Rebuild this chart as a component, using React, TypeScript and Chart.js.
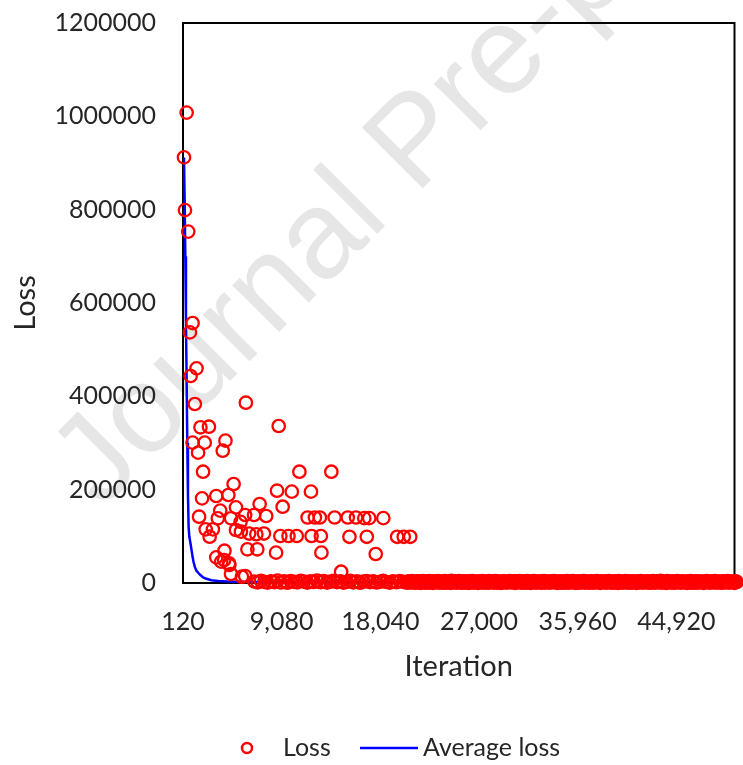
import React, { useEffect, useRef } from "react";
import { Chart, registerables } from "chart.js";

Chart.register(...registerables);

// ---- axis definitions ----
const xTickValues = [120, 9080, 18040, 27000, 35960, 44920];
const xMin = 120;
const xMax = 50200;
const yMin = 0;
const yMax = 1200000;
const yStep = 200000;

// ---- Loss: scattered points (iteration, loss) ----
const lossIter = [
  450, 210, 300, 595, 990, 750, 1350, 810, 1195, 5830,
  1705, 2475, 8810, 990, 2090, 3975, 1490, 3730, 1940, 10690,
  13590, 4715, 1850, 3140, 4240, 8660, 10000, 11740, 4930, 7080,
  9170, 3500, 1580, 3280, 4480, 5765, 6570, 7675, 11435, 12100,
  12550, 13890, 15080, 15830, 16580, 17030, 18310, 2180, 2835, 2540,
  4930, 5380, 6125, 6780, 7470, 8960, 9700, 10450, 11795, 12640,
  15235, 16810, 19565, 20165, 20755, 5970, 6865, 8570, 12690, 17620,
  3885, 3140, 3590, 4330, 4480, 5470, 5765, 14480, 5345, 3860,
  4300,
];
const lossValue = [
  1008000, 912000, 799000, 753000, 557000, 537000, 460000, 443600, 383600, 386400,
  333600, 334900, 336400, 300700, 300700, 305000, 279300, 283500, 238500, 238500,
  238500, 212100, 181400, 186400, 188600, 197800, 195700, 195700, 162100, 169300,
  163500, 155000, 142100, 138600, 138600, 145700, 145700, 143600, 140400, 140400,
  140400, 140400, 140400, 140400, 139000, 139000, 139000, 115000, 115000, 99200,
  113600, 110000, 106000, 104500, 106000, 100700, 100700, 100700, 100700, 100700,
  99000, 99000, 99000, 99000, 99000, 72200, 72200, 65000, 65000, 62100,
  69200, 55000, 45700, 38600, 19300, 13500, 15000, 24200, 131000, 49300,
  42200,
];

// ---- Loss: near-zero band, logged at a regular iteration interval ----
const bandAStart = 6600;
const bandAStep = 300;
const bandALoss = [
  3200, 1500, 4600, 2400, 900, 3800, 2000, 5200, 1200, 3400,
  600, 4200, 2600, 1400, 4800, 3000, 800, 3600, 2200, 5000,
  1600, 3900, 1000, 2800, 4400, 1800, 3300, 700, 2500, 4700,
  1300, 3500, 500, 2900, 4100, 1900, 3700, 1100, 2700, 4500,
  2100, 800, 3400, 1600, 4300, 2300, 1000,
];
const bandBStart = 20500;
const bandBStep = 100;
const bandBLoss = [
  2100, 3400, 900, 2700, 4100, 1500, 3000, 600, 2400, 3800, 1200, 3300, 200, 2900, 4300, 1800, 700, 3500, 2500, 1000,
  4000, 1900, 3100, 400, 2800, 3700, 1400, 2200, 4200, 800, 3200, 1700, 2600, 500, 3900, 2000, 1100, 3600, 2300, 300,
  4400, 1600, 2900, 1300, 3400, 700, 2700, 4000, 1900, 600, 3300, 2400, 1000, 3800, 1500, 2800, 400, 3500, 2100, 4100,
  900, 3000, 1700, 2500, 300, 3700, 1200, 2200, 4300, 800, 3100, 1800, 2600, 500, 3900, 1400, 2900, 3600, 1000, 2300,
  4200, 600, 3200, 1900, 2700, 200, 3800, 1300, 2400, 3400, 700, 3000, 1600, 4000, 2100, 1100, 3500, 2800, 400, 3300,
  1800, 2500, 4100, 900, 2900, 1500, 3700, 600, 2200, 3900, 1200, 2600, 300, 3400, 1700, 4200, 2000, 800, 3100, 2400,
  1400, 3600, 500, 2800, 4000, 1000, 3200, 1900, 2500, 700, 3800, 1300, 2700, 4300, 1600, 3000, 400, 2300, 3500, 1100,
  2900, 600, 3700, 2000, 1500, 4100, 900, 3300, 2400, 1200, 3900, 1800, 2600, 300, 3400, 2100, 800, 3600, 1400, 2800,
  4200, 1000, 3100, 1700, 2500, 500, 3800, 2200, 1300, 3500, 700, 2900, 4000, 1600, 2400, 200, 3300, 1900, 2700, 1100,
  3700, 800, 2600, 4300, 1400, 3000, 600, 2300, 3600, 1200, 2800, 400, 3900, 2000, 1500, 3200, 900, 2500, 4100, 1700,
  2900, 500, 3400, 2100, 1000, 3800, 1800, 2700, 300, 3500, 1300, 2400, 4200, 700, 3100, 1900, 2600, 1100, 3700, 2200,
  600, 3300, 1500, 4000, 2000, 900, 3600, 2800, 1200, 2300, 4400, 800, 3000, 1700, 2500, 400, 3900, 1400, 2700, 3200,
  1000, 3500, 2100, 500, 2900, 4100, 1600, 2400, 700, 3700, 1900, 3100, 1200, 2600, 200, 3400, 2000, 4300, 900, 2800,
  1500, 3800, 600, 2200, 3600, 1100, 3000, 1800, 2500, 400, 3300, 2100, 4000, 1300, 2700, 800, 3500, 1700, 2400, 3900,
  700, 2900, 1400, 3200, 2000, 500, 3700, 2600, 1200, 3400, 1900, 4200, 900, 2300, 3100, 1600, 2800, 300, 3600, 2200,
];

// ---- Average loss ----
const avgIter = [
  210, 270, 330, 390, 450, 510, 570, 630, 690, 780,
  900, 1000, 1080, 1200, 1350, 1500, 1700, 1950, 2250, 2700,
  3300, 4200, 5200, 6500, 8000, 10000, 14000, 20000, 30000, 40000,
  50200,
];
const avgLoss = [
  912000, 820000, 700000, 560000, 430000, 300000, 190000, 120000, 100000, 88000,
  70000, 55000, 45000, 34000, 26000, 22000, 17000, 12000, 9000, 6000,
  4500, 3200, 2600, 2300, 2100, 2000, 1900, 1800, 1700, 1600,
  1500,
];

const seriesNames = ["Loss", "Average loss"];
const xTitle = "Iteration";
const yTitle = "Loss";
const watermarkText = "Journal Pre-proof";

const FONT = "Lato, 'Open Sans', sans-serif";
const TEXT = "#262626";

function buildLossPoints() {
  const pts: { x: number; y: number }[] = [];
  lossIter.forEach((it, i) => pts.push({ x: it, y: lossValue[i] }));
  bandALoss.forEach((v, i) => pts.push({ x: bandAStart + i * bandAStep, y: v }));
  bandBLoss.forEach((v, i) => pts.push({ x: bandBStart + i * bandBStep, y: v }));
  return pts;
}

const framePlugin = {
  id: "frame",
  beforeDatasetsDraw(chart: any) {
    const { ctx, chartArea } = chart;
    ctx.save();
    ctx.strokeStyle = "#000";
    ctx.lineWidth = 2;
    ctx.strokeRect(chartArea.left, chartArea.top, chartArea.right - chartArea.left, chartArea.bottom - chartArea.top);
    ctx.restore();
  },
};

const watermarkPlugin = {
  id: "watermark",
  beforeDraw(chart: any) {
    const { ctx } = chart;
    ctx.save();
    ctx.translate(101, 510);
    ctx.rotate(-Math.PI / 4);
    ctx.font = "125px 'Liberation Sans', Arial, sans-serif";
    ctx.fillStyle = "#e6e6e6";
    ctx.textBaseline = "alphabetic";
    ctx.textAlign = "left";
    ctx.fillText(watermarkText, 0, 0);
    ctx.restore();
  },
};

const legendPlugin = {
  id: "customLegend",
  afterDraw(chart: any) {
    const { ctx } = chart;
    const ds = chart.data.datasets;
    const y = 748;
    ctx.save();
    ctx.font = `25px ${FONT}`;
    ctx.fillStyle = TEXT;
    ctx.textBaseline = "middle";
    ctx.textAlign = "left";
    ctx.beginPath();
    ctx.strokeStyle = ds[0].borderColor;
    ctx.lineWidth = 2.5;
    ctx.arc(247, y, 5, 0, Math.PI * 2);
    ctx.stroke();
    ctx.fillText(ds[0].label, 283, y);
    ctx.beginPath();
    ctx.strokeStyle = ds[1].borderColor;
    ctx.lineWidth = 2.5;
    ctx.moveTo(360, y);
    ctx.lineTo(418, y);
    ctx.stroke();
    ctx.fillText(ds[1].label, 423, y);
    ctx.restore();
  },
};

export default function App() {
  const canvasRef = useRef<HTMLCanvasElement>(null);

  useEffect(() => {
    document.body.style.margin = "0";
    const canvas = canvasRef.current;
    if (!canvas) return;
    const chart = new Chart(canvas, {
      type: "scatter",
      data: {
        datasets: [
          {
            label: seriesNames[0],
            data: buildLossPoints(),
            borderColor: "#FF0000",
            backgroundColor: "rgba(0,0,0,0)",
            pointRadius: 6.2,
            pointBorderWidth: 2.3,
            pointHoverRadius: 6.2,
            showLine: false,
            clip: false as any,
          },
          {
            label: seriesNames[1],
            data: avgIter.map((it, i) => ({ x: it, y: avgLoss[i] })),
            borderColor: "#0000FF",
            backgroundColor: "#0000FF",
            borderWidth: 2.5,
            pointRadius: 0,
            showLine: true,
            tension: 0,
          },
        ],
      },
      options: {
        animation: false,
        responsive: true,
        maintainAspectRatio: false,
        layout: { padding: { top: 23, right: 1, bottom: 65, left: 0 } },
        plugins: {
          legend: { display: false },
          tooltip: { enabled: false },
        },
        scales: {
          x: {
            type: "linear",
            min: xMin,
            max: xMax,
            grid: { display: false, drawTicks: false },
            border: { display: false },
            afterBuildTicks: (scale: any) => {
              scale.ticks = xTickValues.map((v) => ({ value: v }));
            },
            afterFit: (scale: any) => {
              scale.height = 117;
              scale.paddingLeft = 0;
              scale.paddingRight = 0;
            },
            ticks: {
              autoSkip: false,
              maxRotation: 0,
              padding: 24,
              color: TEXT,
              font: { family: FONT, size: 25 },
              callback: (v: any) => Number(v).toLocaleString("en-US"),
            },
            title: {
              display: true,
              text: xTitle,
              color: TEXT,
              font: { family: FONT, size: 29 },
              padding: { top: 0, bottom: 16 },
            },
          },
          y: {
            type: "linear",
            min: yMin,
            max: yMax,
            grid: { display: false, drawTicks: false },
            border: { display: false },
            afterFit: (scale: any) => {
              scale.width = 183;
              scale.paddingTop = 0;
              scale.paddingBottom = 0;
            },
            ticks: {
              stepSize: yStep,
              padding: 27,
              color: TEXT,
              font: { family: FONT, size: 25 },
              callback: (v: any) => String(v),
            },
            title: {
              display: true,
              text: yTitle,
              color: TEXT,
              font: { family: FONT, size: 29 },
              padding: { top: 8, bottom: 0 },
            },
          },
        },
      },
      plugins: [watermarkPlugin, framePlugin, legendPlugin],
    });
    return () => chart.destroy();
  }, []);

  return (
    <div style={{ position: "relative", width: 743, height: 765 }}>
      <canvas ref={canvasRef} />
    </div>
  );
}
